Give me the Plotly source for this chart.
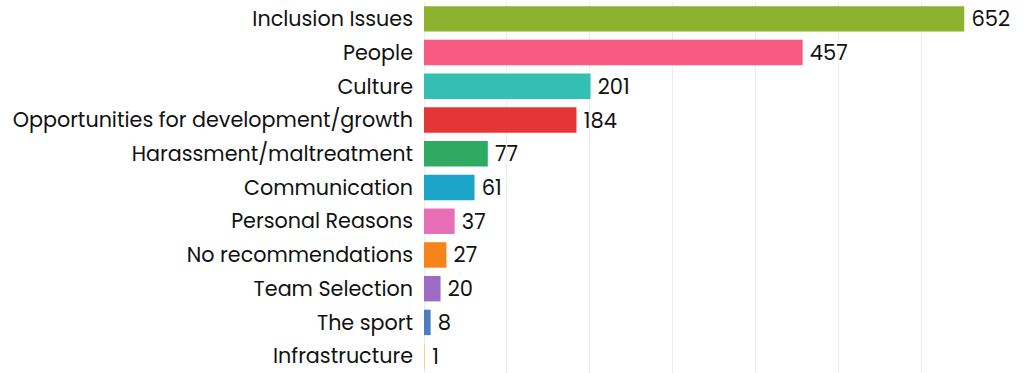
import plotly.graph_objects as go

categories = [
    "Inclusion Issues", "People", "Culture", "Opportunities for development/growth",
    "Harassment/maltreatment", "Communication", "Personal Reasons",
    "No recommendations", "Team Selection", "The sport", "Infrastructure",
]
counts = [652, 457, 201, 184, 77, 61, 37, 27, 20, 8, 1]
colors = [
    "#8db22e", "#f85a82", "#33bfb2", "#e43537", "#2eaa63", "#1ca4c9",
    "#e76fb8", "#f7831b", "#9d6cc2", "#4c7ec2", "#f6d27c",
]

fig = go.Figure()
fig.add_trace(go.Bar(
    x=counts, y=categories, orientation="h",
    marker=dict(color=colors, line=dict(width=0)),
    # thin space so the value sits a few px off the bar end
    text=["\u2009" + str(c) for c in counts], textposition="outside",
    textfont=dict(size=21, color="#111111"),
    cliponaxis=False,
    hoverinfo="skip",
))

fig.update_layout(
    width=1033, height=373,
    margin=dict(l=424, r=29, t=2, b=0),
    plot_bgcolor="white", paper_bgcolor="white",
    font=dict(family="Poppins, Lato, sans-serif", size=21, color="#111111"),
    bargap=0.245,
    showlegend=False,
    uniformtext=dict(minsize=21, mode="show"),
)
fig.update_xaxes(range=[0, 700], dtick=100, showticklabels=False, automargin=False,
                 showgrid=True, gridcolor="#ececec", gridwidth=1,
                 zeroline=True, zerolinecolor="#ececec", zerolinewidth=1)
fig.update_yaxes(autorange="reversed", ticklabelstandoff=10, showgrid=False,
                 automargin=False, tickfont=dict(size=20.7, color="#111111"))

fig.write_html(
    "out.html",
    config={"displayModeBar": False},
    post_script="document.body.style.margin='0';document.body.style.overflow='hidden';",
)
